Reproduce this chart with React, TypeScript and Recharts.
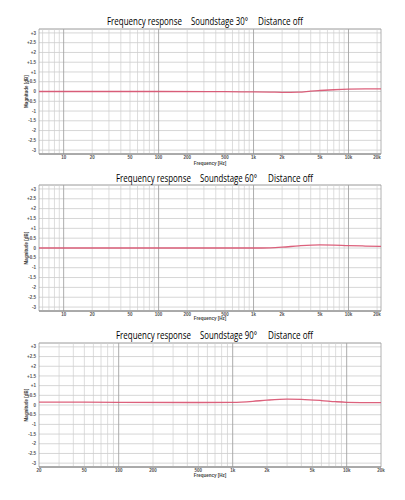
import {
  CartesianGrid,
  Line,
  LineChart,
  ReferenceArea,
  ReferenceLine,
  XAxis,
  YAxis,
} from "recharts";

// Three measured frequency responses (30° / 60° / 90° off axis), each on a
// log frequency axis with ±3 dB range.

const FREQ_30 = [5.5, 100, 500, 1000, 1500, 2000, 3000, 4000, 5000, 7000, 10000, 15000, 22000];
const DB_30 = [0, 0, -0.01, -0.02, -0.03, -0.04, -0.03, 0.02, 0.05, 0.09, 0.12, 0.13, 0.13];

const FREQ_60 = [5.5, 500, 1000, 1500, 2000, 3000, 5000, 7000, 10000, 15000, 22000];
const DB_60 = [0, 0, 0, 0.01, 0.04, 0.11, 0.16, 0.15, 0.12, 0.1, 0.08];

const FREQ_90 = [20, 100, 500, 1000, 1500, 2000, 3000, 4000, 6000, 8000, 10000, 20000];
const DB_90 = [0.15, 0.14, 0.13, 0.14, 0.19, 0.25, 0.3, 0.29, 0.23, 0.17, 0.14, 0.12];

const X_TICKS_WIDE = [10, 20, 50, 100, 200, 500, 1000, 2000, 5000, 10000, 20000];
const X_TICKS_AUDIO = [20, 50, 100, 200, 500, 1000, 2000, 5000, 10000, 20000];
const Y_TICKS = [-3, -2.5, -2, -1.5, -1, -0.5, 0, 0.5, 1, 1.5, 2, 2.5, 3];

const DECADES = [1, 10, 100, 1000, 10000];
const STEPS = [1, 2, 3, 4, 5, 6, 7, 8, 9];

const TITLE_PARTS = ["Frequency response", "Soundstage", "Distance off"];
const ANGLES = ["30°", "60°", "90°"];

const TICK = {
  fontSize: 4.5,
  fill: "#555",
  fontWeight: 700,
  fontFamily: "Liberation Sans, Arial, sans-serif",
} as const;

// titles are drawn narrow (the original uses a condensed face)
const TITLE_SCALE = 0.76;

function freqLabel(v: number): string {
  return v >= 1000 ? `${v / 1000}k` : String(v);
}

function dbLabel(v: number): string {
  return v > 0 ? `+${v}` : String(v);
}

function rows(freq: number[], db: number[]) {
  return freq.map((f, i) => ({ f, db: db[i] }));
}

function Panel({
  top,
  height,
  marginTop,
  axisHeight,
  labelOffset,
  domain,
  ticks,
  data,
}: {
  top: number;
  height: number;
  marginTop: number;
  axisHeight: number;
  labelOffset: number;
  domain: [number, number];
  ticks: number[];
  data: { f: number; db: number }[];
}) {
  const grid = DECADES.flatMap((d) => STEPS.map((s) => s * d)).filter(
    (f) => f > domain[0] && f < domain[1]
  );
  return (
    <div style={{ position: "absolute", left: 0, top }}>
      <LineChart
        width={405}
        height={height}
        data={data}
        margin={{ top: marginTop, right: 24, bottom: 0, left: 0 }}
      >
        <CartesianGrid vertical={false} stroke="#d6d6d6" />
        {grid.map((f) => (
          <ReferenceLine
            key={f}
            x={f}
            stroke={DECADES.includes(f) ? "#a4a4a4" : "#cfcfcf"}
            strokeWidth={DECADES.includes(f) ? 0.9 : 0.7}
          />
        ))}
        <ReferenceArea
          x1={domain[0]}
          x2={domain[1]}
          y1={-3.2}
          y2={3.2}
          fill="none"
          stroke="#a0a0a0"
          strokeWidth={0.8}
        />
        <XAxis
          dataKey="f"
          type="number"
          scale="log"
          domain={domain}
          allowDataOverflow
          ticks={ticks}
          interval={0}
          tickFormatter={freqLabel}
          tick={TICK}
          tickLine={false}
          tickSize={0}
          tickMargin={2}
          axisLine={{ stroke: "#888" }}
          height={axisHeight}
          label={{
            value: "Frequency [Hz]",
            position: "insideBottom",
            offset: labelOffset,
            style: { ...TICK, fill: "#444" },
          }}
        />
        <YAxis
          type="number"
          domain={[-3.2, 3.2]}
          allowDataOverflow
          ticks={Y_TICKS}
          interval={0}
          tickFormatter={dbLabel}
          tick={TICK}
          tickLine={false}
          tickSize={0}
          tickMargin={3}
          axisLine={false}
          width={39}
          label={{
            value: "Magnitude [dB]",
            angle: -90,
            position: "insideLeft",
            offset: 26,
            style: { ...TICK, fill: "#444", textAnchor: "middle" },
          }}
        />
        <Line
          type="monotone"
          dataKey="db"
          stroke="#d8506e"
          strokeOpacity={0.9}
          strokeWidth={1.3}
          dot={false}
          isAnimationActive={false}
        />
      </LineChart>
    </div>
  );
}

function Titles() {
  const rowsY = [25, 182, 339];
  const starts = [
    [107, 191, 258],
    [116, 200, 268],
    [116, 200, 268],
  ];
  const widths = [75, 57, 45];
  return (
    <svg
      width={405}
      height={500}
      style={{ position: "absolute", left: 0, top: 0, pointerEvents: "none" }}
    >
      {rowsY.map((y, r) =>
        TITLE_PARTS.map((part, i) => (
          <text
            key={`${r}-${i}`}
            transform={`translate(${starts[r][i]},${y}) scale(${TITLE_SCALE},1)`}
            fontSize={10.5}
            fill="#000"
            fontFamily="Open Sans, sans-serif"
            textLength={widths[i] / TITLE_SCALE}
            lengthAdjust="spacingAndGlyphs"
          >
            {i === 1 ? `${part} ${ANGLES[r]}` : part}
          </text>
        ))
      )}
    </svg>
  );
}

export default function App() {
  return (
    <div
      style={{
        position: "absolute",
        left: 0,
        top: 0,
        width: 405,
        height: 500,
        background: "#fff",
      }}
    >
      <Panel
        top={0}
        height={170}
        marginTop={29}
        axisHeight={16}
        labelOffset={5.5}
        domain={[5.5, 22000]}
        ticks={X_TICKS_WIDE}
        data={rows(FREQ_30, DB_30)}
      />
      <Panel
        top={160}
        height={167}
        marginTop={25}
        axisHeight={16}
        labelOffset={7}
        domain={[5.5, 22000]}
        ticks={X_TICKS_WIDE}
        data={rows(FREQ_60, DB_60)}
      />
      <Panel
        top={320}
        height={165}
        marginTop={23}
        axisHeight={18}
        labelOffset={8.5}
        domain={[20, 20000]}
        ticks={X_TICKS_AUDIO}
        data={rows(FREQ_90, DB_90)}
      />
      <Titles />
    </div>
  );
}
